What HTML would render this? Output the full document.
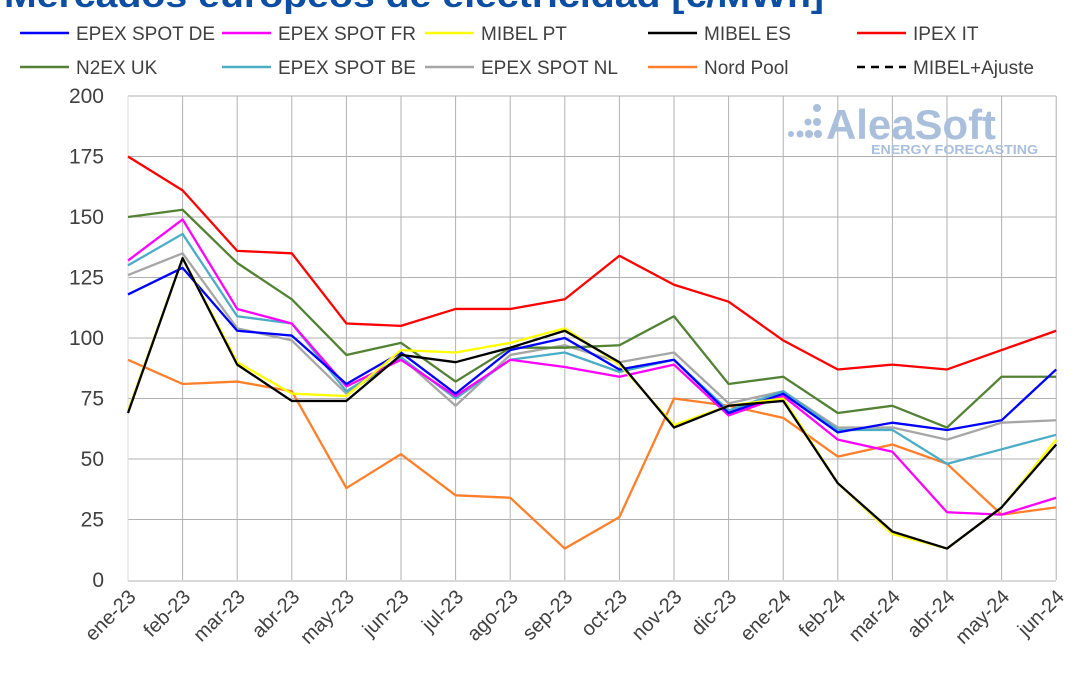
<!DOCTYPE html>
<html><head><meta charset="utf-8"><style>
body{margin:0;background:#fff;width:1080px;height:675px;overflow:hidden;font-family:"Liberation Sans",sans-serif}
</style></head><body>
<svg id="s" width="1080" height="675" xmlns="http://www.w3.org/2000/svg" font-family="Liberation Sans, sans-serif"></svg>
<script>
const s=document.getElementById('s');let h='';
h+='<text x="4" y="7" font-size="34" font-weight="bold" fill="#0b4ea2" textLength="820" lengthAdjust="spacingAndGlyphs">Mercados europeos de electricidad [€/MWh]</text>';
const X=i=>128+i*54.6, Y=v=>580-v*2.42;
for(let v=25;v<=200;v+=25)h+=`<line x1="128" x2="1056" y1="${Y(v)}" y2="${Y(v)}" stroke="#b0b0b0" stroke-width="1"/>`;
for(let i=1;i<18;i++)h+=`<line x1="${X(i)}" x2="${X(i)}" y1="${Y(200)}" y2="580" stroke="#b0b0b0" stroke-width="1"/>`;
h+=`<line x1="128" x2="1056" y1="581" y2="581" stroke="#d9d9d9" stroke-width="2"/>`;
h+=`<line x1="128" x2="128" y1="${Y(200)}" y2="581" stroke="#d9d9d9" stroke-width="1"/>`;
h+='<g fill="#a9bfdc"><circle cx="817" cy="108" r="4"/><circle cx="808" cy="122" r="3.5"/><circle cx="817" cy="122" r="4"/><circle cx="791" cy="134" r="3"/><circle cx="800" cy="134" r="3.5"/><circle cx="809" cy="134" r="4"/><circle cx="818" cy="134" r="4"/></g>';
h+='<text x="826" y="139" font-size="42" font-weight="bold" fill="#a9bfdc" textLength="170" lengthAdjust="spacingAndGlyphs">AleaSoft</text>';
h+='<text x="871" y="154" font-size="13" font-weight="bold" fill="#a9bfdc" textLength="167" lengthAdjust="spacingAndGlyphs">ENERGY FORECASTING</text>';
for(let v=0;v<=200;v+=25)h+=`<text x="104" y="${Y(v)+7}" font-size="21" text-anchor="end" fill="#404040">${v}</text>`;
const m=['ene-23','feb-23','mar-23','abr-23','may-23','jun-23','jul-23','ago-23','sep-23','oct-23','nov-23','dic-23','ene-24','feb-24','mar-24','abr-24','may-24','jun-24'];
m.forEach((t,i)=>h+=`<text transform="translate(${X(i)+9},598) rotate(-45)" font-size="20" text-anchor="end" fill="#404040">${t}</text>`);
const S=[
['#ff7f2a',[91,81,82,78,38,52,35,34,13,26,75,72,67,51,56,48,27,30]],
['#a6a6a6',[126,135,104,99,77,92,72,93,97,90,94,73,78,63,63,58,65,66]],
['#4bacc6',[130,143,109,106,78,92,75,91,94,86,91,70,78,62,62,48,54,60]],
['#548235',[150,153,131,116,93,98,82,96,96,97,109,81,84,69,72,63,84,84]],
['#ff0000',[175,161,136,135,106,105,112,112,116,134,122,115,99,87,89,87,95,103]],
['#ff00ff',[132,149,112,106,80,91,76,91,88,84,89,68,76,58,53,28,27,34]],
['#0000ff',[118,129,103,101,81,94,77,95,100,87,91,69,77,61,65,62,66,87]],
['#ffff00',[70,133,90,77,76,95,94,98,104,89,64,72,75,40,19,13,30,58]],
['#000000',[69,133,89,74,74,93,90,96,103,90,63,72,74,40,20,13,30,56]]];
S.forEach(([c,d])=>h+=`<polyline fill="none" stroke="${c}" stroke-width="2.3" stroke-linejoin="round" points="${d.map((v,i)=>X(i)+','+Y(v)).join(' ')}"/>`);
const L=[[20,33,'#0000ff','EPEX SPOT DE'],[222,33,'#ff00ff','EPEX SPOT FR'],[425,33,'#ffff00','MIBEL PT'],[648,33,'#000000','MIBEL ES'],[857,33,'#ff0000','IPEX IT'],
[20,67,'#548235','N2EX UK'],[222,67,'#4bacc6','EPEX SPOT BE'],[425,67,'#a6a6a6','EPEX SPOT NL'],[648,67,'#ff7f2a','Nord Pool'],[857,67,'#000000','MIBEL+Ajuste']];
L.forEach(([x,y,c,t],k)=>{h+=`<line x1="${x}" x2="${x+49}" y1="${y}" y2="${y}" stroke="${c}" stroke-width="2.5" ${k==9?'stroke-dasharray="8,6"':''}/>`;
h+=`<text x="${x+56}" y="${y+7}" font-size="19" fill="#404040">${t}</text>`;});
s.innerHTML=h;
</script>
</body></html>
